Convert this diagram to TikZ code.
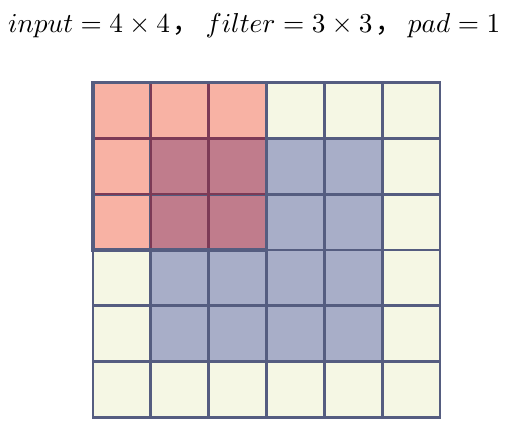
\documentclass[tikz,border=0pt]{standalone}
\usepackage{fontspec}
\usepackage{graphicx}
\newfontfamily\cjk{Noto Sans CJK SC}
\definecolor{cream}{HTML}{F5F7E4}
\definecolor{bluecell}{HTML}{A8AEC8}
\definecolor{salmon}{HTML}{F8B2A4}
\definecolor{mauve}{HTML}{C07C8C}
\definecolor{gridc}{HTML}{555D80}
\definecolor{redline}{HTML}{7D3A56}
\begin{document}
\begin{tikzpicture}[x=1pt,y=-1pt,
  gridline/.style={draw=gridc,line width=2.8pt},
  filterline/.style={draw=redline,line width=2.5pt},
  filterborder/.style={draw=gridc,line width=3.8pt,line join=miter}]
\useasboundingbox (0,0) rectangle (506,426);
\def\cw{57.83}\def\ch{55.83}\def\gx{93}\def\gy{82.5}
% base cells
\fill[cream] (\gx,\gy) rectangle ++(6*\cw,6*\ch);
\fill[bluecell] (\gx+\cw,\gy+\ch) rectangle ++(4*\cw,4*\ch);
\fill[salmon] (\gx,\gy) rectangle ++(3*\cw,3*\ch);
\fill[mauve] (\gx+\cw,\gy+\ch) rectangle ++(2*\cw,2*\ch);
% grid lines
\foreach \i in {0,...,6} {
  \draw[gridline,line cap=rect] (\gx+\i*\cw,\gy) -- (\gx+\i*\cw,\gy+6*\ch);
  \draw[gridline,line cap=rect] (\gx,\gy+\i*\ch) -- (\gx+6*\cw,\gy+\i*\ch);
}
% filter inner lines
\foreach \i in {1,2} {
  \draw[filterline] (\gx+\i*\cw,\gy) -- (\gx+\i*\cw,\gy+3*\ch);
  \draw[filterline] (\gx,\gy+\i*\ch) -- (\gx+3*\cw,\gy+\i*\ch);
}
\draw[filterborder] (\gx,\gy) rectangle ++(3*\cw,3*\ch);
% title
\node[anchor=base west,inner sep=0pt] (title) at (8,32)
  {\resizebox{492pt}{19pt}{$input=4\times 4$\hspace{0.1em}{\cjk ，}\hspace{0.2em}$filter=3\times 3$\hspace{0.1em}{\cjk ，}\hspace{0.2em}$pad=1$}};
\end{tikzpicture}
\end{document}
